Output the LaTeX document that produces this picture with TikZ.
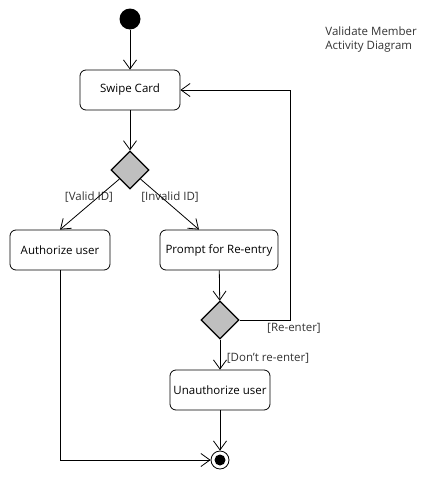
\documentclass[tikz,border=0pt]{standalone}
\usepackage{fontspec}
\setmainfont{Open Sans}
\usetikzlibrary{arrows.meta,shapes.geometric}

\begin{document}
\begin{tikzpicture}[
    x=1pt, y=-1pt,
    font=\fontsize{11.5}{14}\selectfont,
    every path/.style={line width=0.8pt},
    act/.style={rectangle, draw, rounded corners=6pt, minimum width=100pt, minimum height=40pt, inner sep=1pt},
    choice/.style={diamond, draw, line width=1.2pt, fill=gray!50, minimum size=38pt, inner sep=0pt},
    start/.style={circle, fill=black, minimum size=21pt, inner sep=0pt},
    stop/.style={circle, draw, fill=white, minimum size=18pt, inner sep=0pt},
    guard/.style={inner sep=0pt, text=black!80},
    flow/.style={-{Straight Barb[length=9pt, width=13pt]}},
]
    \useasboundingbox (0,0) rectangle (440,490);
    \node [start] (init) at (130,19) {};
    \node [act] (swipe) at (130,90) {Swipe Card};
    \node [choice] (valid) at (130,170) {};
    \node [act] (auth) at (60,250) {Authorize user};
    \node [act, minimum width=118pt] (prompt) at (219,250) {Prompt for Re-entry};
    \node [choice] (again) at (220,320) {};
    \node [act] (unauth) at (220,390) {Unauthorize user};
    \node [stop] (final) at (220,460) {};
    \fill (final) circle (5.5pt);
    \coordinate (loop) at (290,90);

    \node [guard] at (89,197) {[Valid ID]};
    \node [guard] at (170,197) {[Invalid ID]};
    \node [guard] at (294,328) {[Re-enter]};
    \node [guard] at (268,358) {[Don't re-enter]};
    \node [guard, align=left, anchor=north west] (title) at (325,26)
        {Validate Member\\Activity Diagram};

    \draw [flow] (init) -- (swipe);
    \draw [flow] (swipe) -- (valid);
    \draw [flow] (valid) -- (auth.north);
    \draw [flow] (valid) -- ([xshift=-20pt]prompt.north);
    \draw [flow] (prompt) -- (again);
    \draw [flow] (again.east) -| (loop) -- (swipe.east);
    \draw [flow] (again) -- (unauth);
    \draw [flow] (unauth) -- (final);
    \draw [flow] (auth.south) |- (final.west);
\end{tikzpicture}
\end{document}
